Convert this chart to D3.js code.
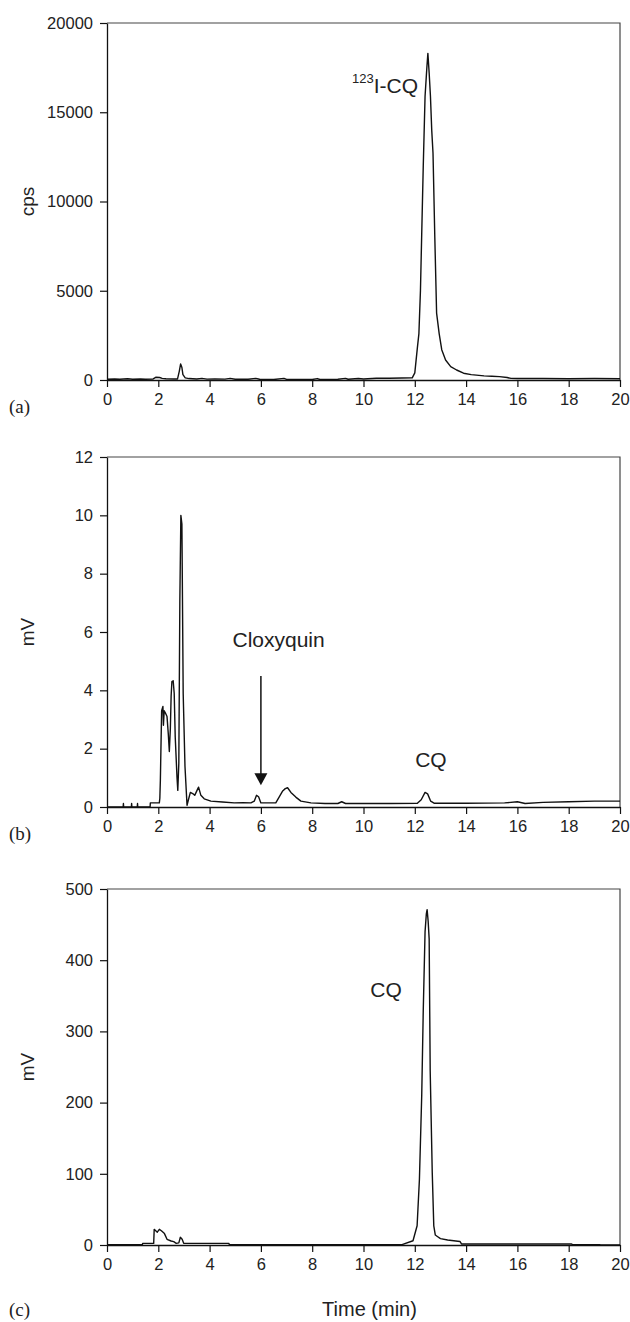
<!DOCTYPE html>
<html>
<head>
<meta charset="utf-8">
<script src="https://cdn.jsdelivr.net/npm/d3@7"></script>
<style>
  body { margin: 0; background: #fff; }
  svg text { font-family: "Liberation Sans", Arial, sans-serif; fill: #222; }
</style>
</head>
<body>
<svg id="chart" width="630" height="1322"></svg>
<script>
// tick labels
var timeTicks = [0, 2, 4, 6, 8, 10, 12, 14, 16, 18, 20];
var cpsTicks = [0, 5000, 10000, 15000, 20000];
var mvTicksB = [0, 2, 4, 6, 8, 10, 12];
var mvTicksC = [0, 100, 200, 300, 400, 500];

// (a) radio detector trace, [time (min), cps]
var traceA = [
  [0, 40], [0.3, 60], [0.5, 40], [0.8, 70], [1.0, 40], [1.3, 60], [1.5, 40], [1.8, 60],
  [1.9, 150], [2.05, 140], [2.15, 90], [2.3, 70], [2.6, 60], [2.75, 60], [2.82, 500],
  [2.87, 900], [2.92, 700], [2.96, 300], [3.05, 120], [3.2, 80], [3.5, 60], [3.7, 90],
  [3.9, 50], [4.2, 60], [4.6, 50], [4.8, 90], [5.0, 40], [5.5, 40], [5.8, 90], [5.95, 40],
  [6.5, 30], [6.9, 90], [7.0, 30], [7.5, 30], [8.0, 30], [8.2, 80], [8.3, 30], [9.0, 40],
  [9.3, 90], [9.4, 40], [9.8, 80], [10.0, 60], [10.5, 100], [11.0, 100], [11.5, 110],
  [11.9, 120], [12.0, 400], [12.05, 1100], [12.1, 1800], [12.16, 2600], [12.22, 5000],
  [12.27, 8200], [12.33, 12000], [12.4, 15900], [12.47, 17500], [12.51, 18300],
  [12.56, 17200], [12.61, 15900], [12.66, 14000], [12.71, 12700], [12.78, 8000],
  [12.85, 3750], [12.95, 2600], [13.05, 1700], [13.2, 1120], [13.4, 750], [13.63, 560],
  [13.9, 380], [14.2, 300], [14.7, 230], [15.0, 210], [15.3, 190], [15.6, 140],
  [15.75, 90], [16.0, 80], [17.0, 80], [18.0, 70], [19.0, 80], [20.0, 70]
];

// (b) UV trace, [time (min), mV]
var traceB = [
  [0, 0], [0.63, 0], [0.64, 0.12], [0.65, 0], [0.95, 0], [0.96, 0.12], [0.97, 0],
  [1.18, 0], [1.19, 0.12], [1.2, 0], [1.68, 0], [1.69, 0.14], [2.04, 0.14], [2.06, 0.3],
  [2.08, 0.9], [2.13, 3.3], [2.18, 3.45], [2.2, 2.8], [2.23, 3.3], [2.29, 3.2], [2.34, 3.1],
  [2.39, 2.5], [2.43, 1.9], [2.47, 2.7], [2.5, 3.8], [2.53, 4.3], [2.58, 4.33], [2.62, 3.9],
  [2.66, 2.4], [2.73, 1.0], [2.76, 0.57], [2.8, 1.5], [2.84, 7.1], [2.88, 10.0], [2.92, 9.7],
  [2.97, 3.9], [3.04, 1.4], [3.12, 0.06], [3.17, 0.23], [3.25, 0.5], [3.34, 0.46],
  [3.42, 0.4], [3.51, 0.57], [3.57, 0.68], [3.66, 0.4], [3.79, 0.28], [4.05, 0.2],
  [4.5, 0.17], [4.96, 0.14], [5.3, 0.15], [5.61, 0.14], [5.74, 0.2], [5.83, 0.4],
  [5.91, 0.35], [6.0, 0.14], [6.58, 0.14], [6.71, 0.34], [6.85, 0.55], [6.95, 0.63],
  [7.04, 0.66], [7.17, 0.5], [7.36, 0.34], [7.56, 0.2], [7.95, 0.14], [8.5, 0.12],
  [9.0, 0.12], [9.15, 0.18], [9.3, 0.12], [10, 0.12], [11, 0.12], [12.1, 0.13],
  [12.25, 0.25], [12.4, 0.5], [12.5, 0.45], [12.62, 0.2], [12.75, 0.13], [14, 0.13],
  [15.5, 0.14], [16, 0.18], [16.3, 0.12], [17, 0.16], [18, 0.18], [19, 0.2], [20, 0.2]
];

// (c) UV trace, [time (min), mV]
var traceC = [
  [0, 0.5], [1.38, 0.5], [1.39, 2.3], [1.82, 2.3], [1.84, 22], [1.9, 20], [1.96, 18],
  [2.04, 22], [2.12, 20], [2.24, 16], [2.34, 8], [2.5, 5.6], [2.6, 4.7], [2.7, 2.3],
  [2.8, 3], [2.86, 10.8], [2.93, 8], [2.99, 2.3], [4.75, 2.3], [4.77, 0.5], [11.5, 0.5],
  [11.53, 1], [11.93, 6], [12.09, 27], [12.18, 92], [12.27, 210], [12.33, 330],
  [12.4, 440], [12.45, 465], [12.48, 471], [12.52, 455], [12.56, 430], [12.6, 245],
  [12.68, 102], [12.74, 27], [12.8, 14], [12.88, 12], [13.0, 9], [13.28, 7], [13.76, 5],
  [13.82, 1.5], [18.1, 1.5], [18.15, 0.5], [19.2, 0.5], [19.25, 0], [20, 0]
];

var svg = d3.select("#chart");
var left = 107, right = 620;

var panels = [
  { id: "(a)", data: traceA, ymax: 20000, ticks: cpsTicks, title: "cps", top: 23, bottom: 380,
    notes: [{ t: 9.55, v: 16080, sup: "123", text: "I-CQ" }] },
  { id: "(b)", data: traceB, ymax: 12, ticks: mvTicksB, title: "mV", top: 457, bottom: 807,
    notes: [{ t: 6.69, v: 5.49, text: "Cloxyquin", anchor: "middle" },
            { t: 12.63, v: 1.37, text: "CQ", anchor: "middle" }],
    arrow: { t: 6, from: 4.49, to: 0.75 } },
  { id: "(c)", data: traceC, ymax: 500, ticks: mvTicksC, title: "mV", top: 889, bottom: 1245,
    notes: [{ t: 10.88, v: 348, text: "CQ", anchor: "middle" }], xlabel: "Time (min)" }
];

panels.forEach(function(p) {
  var x = d3.scaleLinear().domain([0, 20]).range([left, right]);
  var y = d3.scaleLinear().domain([0, p.ymax]).range([p.bottom, p.top]);
  var g = svg.append("g");

  // top/right frame
  g.append("path")
      .attr("d", "M" + left + "," + p.top + "H" + right + "V" + p.bottom)
      .attr("fill", "none")
      .attr("stroke", "#444")
      .attr("stroke-width", 1.2);

  var line = d3.line()
      .x(function(d) { return x(d[0]); })
      .y(function(d) { return y(d[1]); });

  g.append("path")
      .datum(p.data)
      .attr("d", line)
      .attr("fill", "none")
      .attr("stroke", "#111")
      .attr("stroke-width", 1.4)
      .attr("stroke-linejoin", "round");

  var xAxis = g.append("g")
      .attr("transform", "translate(0," + p.bottom + ")")
      .call(d3.axisBottom(x).tickValues(timeTicks).tickFormat(d3.format("d"))
        .tickSize(7).tickSizeOuter(0).tickPadding(6));
  var yAxis = g.append("g")
      .attr("transform", "translate(" + left + ",0)")
      .call(d3.axisLeft(y).tickValues(p.ticks).tickFormat(d3.format("d"))
        .tickSize(7).tickSizeOuter(0).tickPadding(7));

  [xAxis, yAxis].forEach(function(a) {
    a.select(".domain").attr("stroke", "#111").attr("stroke-width", 1.3);
    a.selectAll(".tick line").attr("stroke", "#111").attr("stroke-width", 1.2);
    a.selectAll(".tick text")
        .style("font-family", "'Liberation Sans', Arial, sans-serif")
        .style("font-size", "16.5px")
        .attr("fill", "#222");
  });

  g.append("text")
      .attr("transform", "translate(34," + (p.top + p.bottom) / 2 + ") rotate(-90)")
      .attr("text-anchor", "middle")
      .style("font-size", "19px")
      .text(p.title);

  g.append("text")
      .attr("x", 9)
      .attr("y", p.xlabel ? 1316 : p.bottom + 33)
      .style("font-family", "'Liberation Serif', 'Times New Roman', serif")
      .style("font-size", "19px")
      .text(p.id);

  if (p.xlabel) {
    g.append("text")
        .attr("x", (left + right) / 2 + 6)
        .attr("y", 1316)
        .attr("text-anchor", "middle")
        .style("font-size", "20px")
        .text(p.xlabel);
  }

  p.notes.forEach(function(n) {
    var t = g.append("text")
        .attr("x", x(n.t))
        .attr("y", y(n.v))
        .attr("text-anchor", n.anchor || "start")
        .style("font-size", "21px");
    if (n.sup) {
      t.append("tspan").attr("dy", -10).style("font-size", "13px").text(n.sup);
      t.append("tspan").attr("dy", 10).text(n.text);
    } else {
      t.text(n.text);
    }
  });

  if (p.arrow) {
    var ax = x(p.arrow.t), ay0 = y(p.arrow.from), ay1 = y(p.arrow.to);
    g.append("line")
        .attr("x1", ax).attr("x2", ax)
        .attr("y1", ay0).attr("y2", ay1 - 10)
        .attr("stroke", "#111")
        .attr("stroke-width", 1.5);
    g.append("path")
        .attr("d", "M" + (ax - 6.5) + "," + (ay1 - 12) + "L" + (ax + 6.5) + "," + (ay1 - 12) +
                   "L" + ax + "," + ay1 + "Z")
        .attr("fill", "#111");
  }
});
</script>
</body>
</html>
